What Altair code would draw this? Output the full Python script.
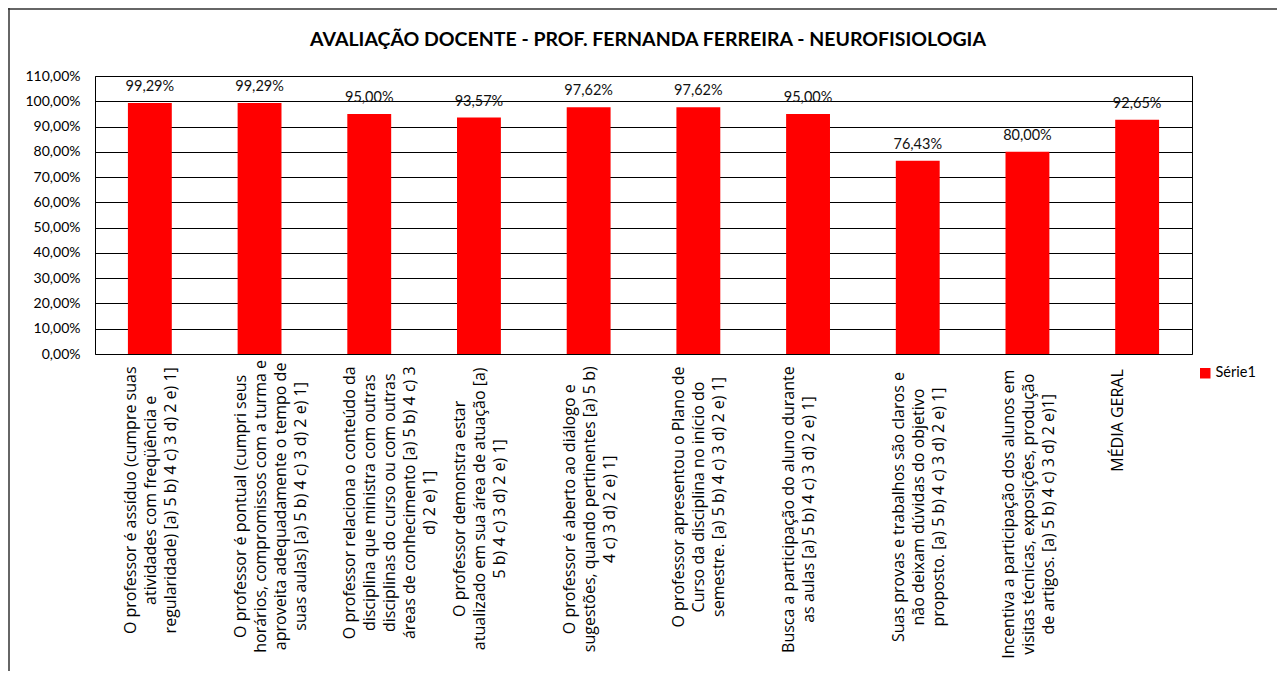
import altair as alt
import pandas as pd

title_text = "AVALIAÇÃO DOCENTE - PROF. FERNANDA FERREIRA - NEUROFISIOLOGIA"

categories = [
    "O professor é assíduo (cumpre suas|atividades com freqüência e|regularidade) [a) 5 b) 4 c) 3 d) 2 e) 1]",
    "O professor é pontual (cumpri seus|horários, compromissos  com a turma e|aproveita adequadamente  o tempo de|suas aulas) [a) 5 b) 4 c) 3 d) 2 e) 1]",
    "O professor relaciona o conteúdo da|disciplina que ministra  com outras|disciplinas do curso ou com outras|áreas de conhecimento [a) 5 b) 4 c) 3|d) 2 e) 1]",
    "O professor demonstra  estar|atualizado  em sua área de atuação  [a)|5 b) 4 c) 3 d) 2 e) 1]",
    "O professor é aberto ao diálogo e|sugestões, quando pertinentes [a) 5 b)|4 c) 3 d) 2 e) 1]",
    "O professor apresentou o Plano de|Curso da disciplina no início do|semestre. [a) 5 b) 4 c) 3 d) 2 e) 1]",
    "Busca a participação do aluno durante|as aulas [a) 5 b) 4 c) 3 d) 2 e) 1]",
    "Suas provas e trabalhos  são claros e|não deixam dúvidas do objetivo|proposto. [a) 5 b) 4 c) 3 d) 2 e) 1]",
    "Incentiva a participação  dos alunos em|visitas técnicas, exposições, produção|de artigos.  [a) 5 b) 4 c) 3 d) 2 e)1]",
    "MÉDIA GERAL",
]
values = [0.9929, 0.9929, 0.9500, 0.9357, 0.9762, 0.9762, 0.9500, 0.7643, 0.8000, 0.9265]
series_name = "Série1"
y_ticks = [0.0, 0.1, 0.2, 0.3, 0.4, 0.5, 0.6, 0.7, 0.8, 0.9, 1.0, 1.1]
y_max = 1.1

W, H = 1097, 278
FONT = "Lato"
LFONT = "Open Sans"
LSIZE = 16


def est_width(line):
    # rough text width estimate (px) of a label line, used to centre the block
    w = 0.0
    for ch in line:
        if ch.isupper():
            w += 9.0
        elif ch == " ":
            w += 3.6
        elif ch in "()[]ilj.,":
            w += 4.2
        else:
            w += 7.3
    return w * LSIZE / 13.5


df = pd.DataFrame({
    "cat": categories,
    "value": values,
    "serie": [series_name] * len(categories),
    "halfw": [max(est_width(s) for s in c.split("|")) / 2 for c in categories],
})

x_enc = alt.X("cat:N", sort=None, axis=None,
              scale=alt.Scale(paddingInner=0.6, paddingOuter=0.3))

y_axis = alt.Axis(values=y_ticks, title=None, ticks=False, domain=False,
                  grid=True, gridColor="#000000", gridWidth=1, gridOpacity=1,
                  labelOverlap=False,
                  labelExpr="replace(format(datum.value, '.2%'), '.', ',')",
                  labelFont=FONT, labelFontSize=14, labelColor="#000000",
                  labelPadding=15)
y_scale = alt.Scale(domain=[0, y_max], nice=False)

base = alt.Chart(df)

bars = base.mark_bar(color="#ff0000").encode(
    x=x_enc,
    y=alt.Y("value:Q", scale=y_scale, axis=y_axis),
    color=alt.Color("serie:N", scale=alt.Scale(range=["#ff0000"]),
                    legend=alt.Legend(title=None, orient="none", legendX=1103, legendY=290,
                                      symbolType="square", symbolSize=110,
                                      symbolStrokeWidth=0, labelFont=FONT,
                                      labelFontSize=14.5, labelColor="#000000",
                                      labelOffset=3)),
)

value_labels = base.transform_calculate(
    lab="replace(format(datum.value, '.2%'), '.', ',')"
).mark_text(font=FONT, fontSize=14.5, baseline="middle", dy=-16, color="#111111").encode(
    x=x_enc,
    y=alt.Y("value:Q", scale=y_scale, axis=y_axis),
    text="lab:N",
)

# category labels below the axis: block top 11px under the axis, lines centred in the block
cat_labels = base.transform_calculate(
    lines="split(datum.cat, '|')",
    ypos=f"{y_max} * (1 - ({H} + 11 + datum.halfw) / {H})",
).mark_text(font=LFONT, fontSize=LSIZE, angle=270, align="center", baseline="middle",
            lineHeight=20, color="#000000").encode(
    x=x_enc,
    xOffset=alt.value(3),
    y=alt.Y("ypos:Q", scale=y_scale, axis=y_axis),
    text="lines:N",
)

title_mark = alt.Chart(pd.DataFrame({"t": [title_text]})).mark_text(
    font=FONT, fontSize=19.5, fontWeight="bold", align="center", baseline="middle",
    color="#000000").encode(
    x=alt.value(553), y=alt.value(-36), text="t:N")

border_top = alt.Chart(pd.DataFrame({"t": [0]})).mark_rule(color="#333333", strokeWidth=1.5).encode(
    x=alt.value(-87), x2=alt.value(W + 85), y=alt.value(-67))
border_left = alt.Chart(pd.DataFrame({"t": [0]})).mark_rule(color="#333333", strokeWidth=1.5).encode(
    x=alt.value(-86), y=alt.value(-68), y2=alt.value(H + 317))

chart = alt.layer(bars, value_labels, cat_labels, title_mark, border_top, border_left).properties(
    width=W, height=H,
    background="white",
    autosize=alt.AutoSizeParams(type="none"),
    padding={"left": 87, "top": 68, "right": 85, "bottom": 317},
).configure_view(stroke="#000000", strokeWidth=1)

chart.save("out.html", embed_options={"renderer": "svg", "actions": False})
